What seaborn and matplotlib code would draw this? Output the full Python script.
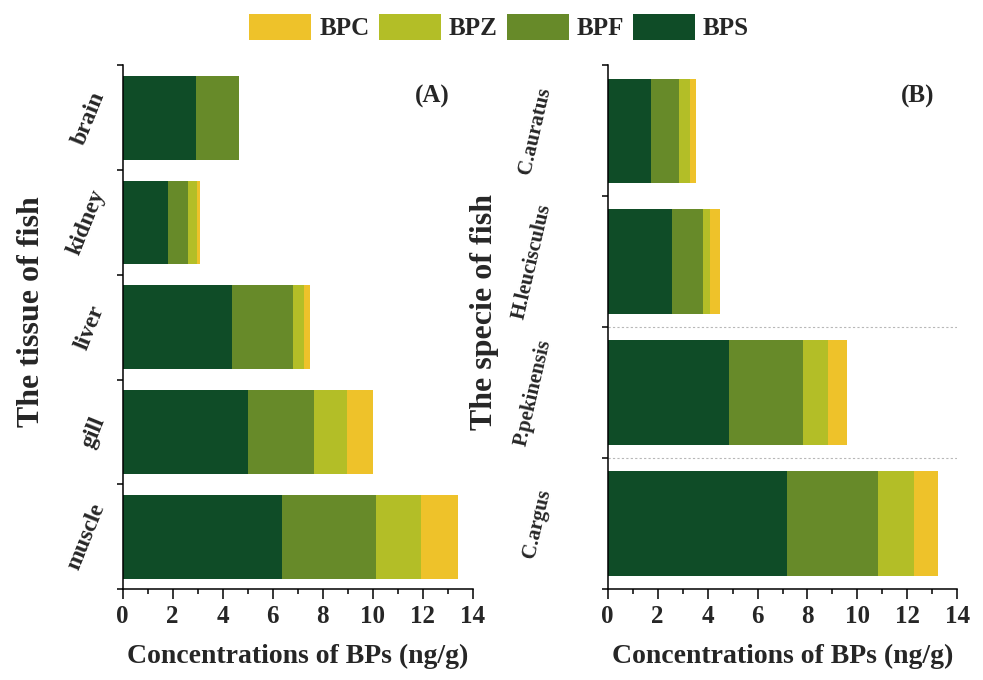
import numpy as np
import pandas as pd
import matplotlib
matplotlib.use("Agg")
import matplotlib.pyplot as plt
from matplotlib.ticker import MultipleLocator
from matplotlib.patches import Patch
import seaborn as sns

# ---------------- data ----------------
tissues = ["brain", "kidney", "liver", "gill", "muscle"]
bps_tissue = [2.92, 1.81, 4.37, 5.02, 6.36]
bpf_tissue = [1.75, 0.79, 2.43, 2.65, 3.76]
bpz_tissue = [0.00, 0.37, 0.46, 1.32, 1.80]
bpc_tissue = [0.00, 0.12, 0.25, 1.03, 1.48]

species = ["C.auratus", "H.leucisculus", "P.pekinensis", "C.argus"]
bps_species = [1.73, 2.56, 4.86, 7.17]
bpf_species = [1.14, 1.25, 2.96, 3.67]
bpz_species = [0.43, 0.29, 1.00, 1.42]
bpc_species = [0.22, 0.40, 0.75, 0.97]

compounds = ["BPC", "BPZ", "BPF", "BPS"]
colors = {"BPC": "#EEC22A", "BPZ": "#B3BE27", "BPF": "#678A29", "BPS": "#0F4C27"}

x_ticks = [0, 2, 4, 6, 8, 10, 12, 14]

sns.set_theme(style="ticks")
plt.rcParams["font.family"] = ["Liberation Serif", "DejaVu Serif"]
plt.rcParams["font.weight"] = "bold"
plt.rcParams["font.style"] = "normal"

fig = plt.figure(figsize=(9.83, 6.80), dpi=100)
ax1 = fig.add_axes([0.1248, 0.1338, 0.356, 0.770])
ax2 = fig.add_axes([0.6182, 0.1338, 0.3557, 0.770])


def draw_panel(ax, cats, bps, bpf, bpz, bpc, panel, ylabel, ylabel_x,
               lab_pad, lab_rot, lab_size):
    df = pd.DataFrame({"cat": cats, "BPS": bps, "BPF": bpf, "BPZ": bpz, "BPC": bpc})
    df["c_BPS"] = df["BPS"]
    df["c_BPF"] = df["c_BPS"] + df["BPF"]
    df["c_BPZ"] = df["c_BPF"] + df["BPZ"]
    df["c_BPC"] = df["c_BPZ"] + df["BPC"]
    for comp in compounds:  # draw from the total down so each segment shows
        sns.barplot(data=df, x="c_" + comp, y="cat", order=cats, orient="h",
                    color=colors[comp], width=0.8, linewidth=0, errorbar=None,
                    saturation=1, ax=ax)
    n = len(cats)
    ax.set_xlim(0, 14)
    ax.set_ylim(n - 0.5, -0.5)
    ax.set_xticks(x_ticks)
    ax.set_xticklabels([str(v) for v in x_ticks])
    ax.xaxis.set_minor_locator(MultipleLocator(1))
    ax.set_yticks(np.arange(-0.5, n, 1.0))
    ax.set_yticklabels([])
    ax.set_yticks(np.arange(n), minor=True)
    ax.set_yticklabels(cats, minor=True, rotation=lab_rot, fontsize=lab_size,
                       fontweight="bold", fontstyle="normal")
    for t in ax.get_yticklabels(minor=True):
        t.set_verticalalignment("center")
        t.set_horizontalalignment("right")
    ax.tick_params(axis="x", which="major", direction="out", length=7.2, width=1.1,
                   labelsize=18, pad=4, color="black")
    ax.tick_params(axis="x", which="minor", direction="out", length=3.6, width=1.1,
                   color="black")
    ax.tick_params(axis="y", which="major", direction="out", length=4.3, width=1.1,
                   color="black")
    ax.tick_params(axis="y", which="minor", length=0, pad=lab_pad)
    for s in ["top", "right"]:
        ax.spines[s].set_visible(False)
    for s in ["left", "bottom"]:
        ax.spines[s].set_linewidth(1.1)
        ax.spines[s].set_color("black")
    ax.set_xlabel("Concentrations of BPs (ng/g)", fontsize=20, fontweight="bold")
    ax.xaxis.set_label_coords(0.5, -0.105)
    ax.set_ylabel(ylabel, fontsize=23, fontweight="bold")
    ax.yaxis.set_label_coords(ylabel_x, 0.53)
    ax.text(0.885, 0.94, panel, transform=ax.transAxes, ha="center", va="center",
            fontsize=18, fontweight="bold")


draw_panel(ax1, tissues, bps_tissue, bpf_tissue, bpz_tissue, bpc_tissue,
           "(A)", "The tissue of fish", -0.22, 10, 68, 17)
draw_panel(ax2, species, bps_species, bpf_species, bpz_species, bpc_species,
           "(B)", "The specie of fish", -0.31, 38, 77, 15)

for yb in [1.5, 2.5]:
    ax2.axhline(yb, color="#B8B8B8", linestyle=(0, (2, 2)), linewidth=0.8, zorder=0)

handles = [Patch(facecolor=colors[c], edgecolor="none", label=c) for c in compounds]
fig.legend(handles=handles, loc="center", bbox_to_anchor=(0.508, 0.960), ncol=4,
           frameon=False, prop={"size": 18, "weight": "bold"},
           handlelength=2.48, handleheight=1.24, handletextpad=0.32,
           columnspacing=0.36, borderaxespad=0)

fig.savefig("out.png", dpi=100)
